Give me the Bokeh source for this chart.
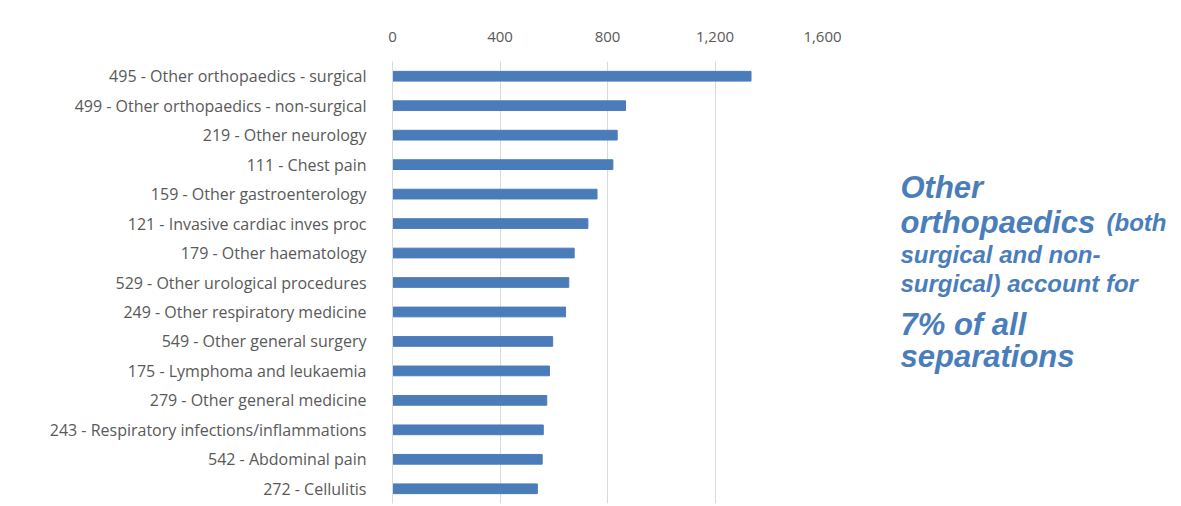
from bokeh.plotting import figure
from bokeh.models import FactorRange, Range1d, FixedTicker, NumeralTickFormatter
from bokeh.layouts import row
from bokeh.core.properties import value
from bokeh.embed import file_html
from bokeh.resources import INLINE

categories = [
    "495 - Other orthopaedics - surgical",
    "499 - Other orthopaedics - non-surgical",
    "219 - Other neurology",
    "111 - Chest pain",
    "159 - Other gastroenterology",
    "121 - Invasive cardiac inves proc",
    "179 - Other haematology",
    "529 - Other urological procedures",
    "249 - Other respiratory medicine",
    "549 - Other general surgery",
    "175 - Lymphoma and leukaemia",
    "279 - Other general medicine",
    "243 - Respiratory infections/inflammations",
    "542 - Abdominal pain",
    "272 - Cellulitis",
]
values = [1334, 867, 836, 820, 761, 727, 676, 656, 644, 596, 584, 574, 561, 557, 539]
x_ticks = [0, 400, 800, 1200, 1600]

note_big = ["Other", "orthopaedics", "7% of all", "separations"]
note_small = ["(both", "surgical and non-", "surgical) account for"]

BLUE = "#4a7cba"
TEXT_BLUE = "#4a7ebb"

p = figure(
    width=860, height=505,
    y_range=FactorRange(*reversed(categories)),
    x_range=Range1d(0, 1600),
    x_axis_location="above",
    output_backend="svg", toolbar_location=None,
    min_border_left=392, min_border_right=38, min_border_top=61, min_border_bottom=2,
)
p.hbar(y=categories, right=values, left=0, height=0.33, color=BLUE)

p.outline_line_color = None
p.ygrid.grid_line_color = None
p.xgrid.grid_line_color = "#d9d9d9"
p.xgrid.ticker = FixedTicker(ticks=x_ticks)

xa = p.xaxis[0]
xa.ticker = FixedTicker(ticks=x_ticks)
xa.formatter = NumeralTickFormatter(format="0,0")
xa.axis_line_color = None
xa.major_tick_line_color = None
xa.minor_tick_line_color = None
xa.major_label_standoff = 14
xa.major_label_text_font = "Open Sans"
xa.major_label_text_font_size = "15px"
xa.major_label_text_color = "#595959"

ya = p.yaxis[0]
ya.axis_line_color = "#d9d9d9"
ya.major_tick_line_color = None
ya.minor_tick_line_color = None
ya.major_label_standoff = 20
ya.major_label_text_font = "Open Sans"
ya.major_label_text_font_size = "16px"
ya.major_label_text_color = "#595959"

# Side note panel: frame aligned with the chart frame, y runs downwards in page pixels
q = figure(
    width=320, height=505,
    x_range=Range1d(0, 320), y_range=Range1d(503, 61),
    output_backend="svg", toolbar_location=None,
    min_border_left=0, min_border_right=0, min_border_top=61, min_border_bottom=2,
)
q.axis.visible = False
q.grid.visible = False
q.outline_line_color = None

common = dict(text_font=value("Liberation Sans"), text_font_style="bold italic",
              text_color=TEXT_BLUE, text_baseline="alphabetic", text_align="left")
q.text(x=[40, 40, 40, 40], y=[187, 222, 324, 356], text=note_big,
       text_font_size="31px", **common)
q.text(x=[246, 40, 40], y=[222, 254, 283], text=note_small,
       text_font_size="24px", **common)

open("out.html", "w").write(file_html(row(p, q), INLINE))
